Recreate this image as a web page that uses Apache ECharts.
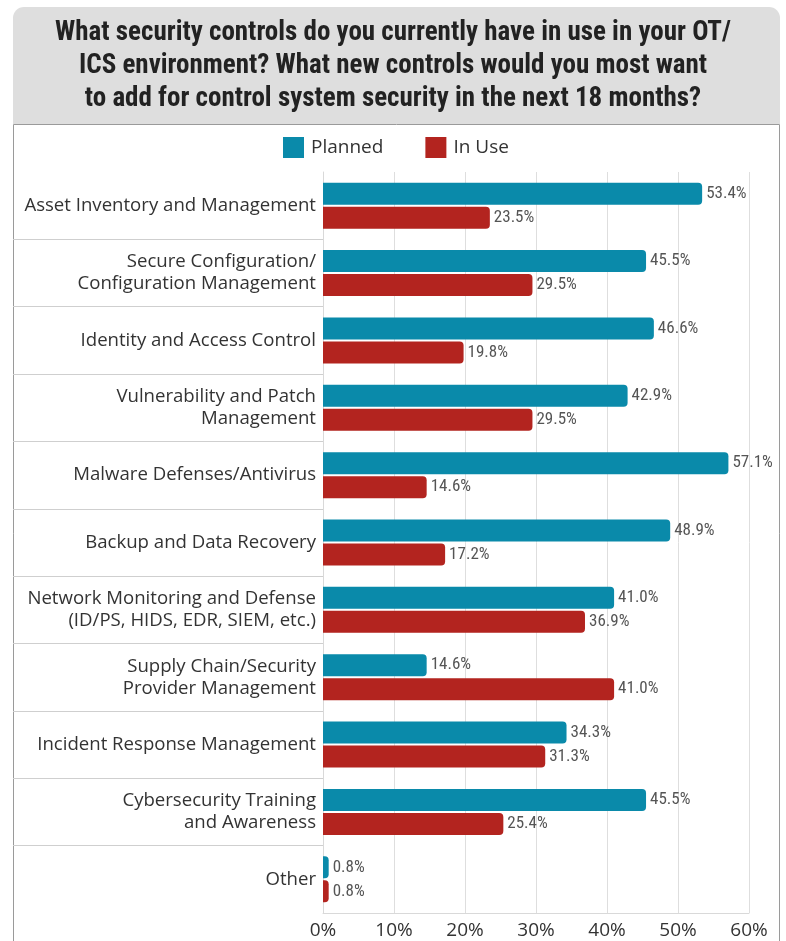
<!DOCTYPE html>
<html>
<head>
<meta charset="utf-8">
<script src="https://cdn.jsdelivr.net/npm/echarts@6/dist/echarts.min.js"></script>
<style>
  html, body { margin: 0; padding: 0; background: #ffffff; }
  #chart { width: 786px; height: 941px; }
</style>
</head>
<body>
<div id="chart"></div>
<script>
// Survey categories, top to bottom
const categories = [
  'Asset Inventory and Management',
  'Secure Configuration/\nConfiguration Management',
  'Identity and Access Control',
  'Vulnerability and Patch\nManagement',
  'Malware Defenses/Antivirus',
  'Backup and Data Recovery',
  'Network Monitoring and Defense\n(ID/PS, HIDS, EDR, SIEM, etc.)',
  'Supply Chain/Security\nProvider Management',
  'Incident Response Management',
  'Cybersecurity Training\nand Awareness',
  'Other'
];

// Share of respondents (%)
const planned = [53.4, 45.5, 46.6, 42.9, 57.1, 48.9, 41.0, 14.6, 34.3, 45.5, 0.8];
const inUse   = [23.5, 29.5, 19.8, 29.5, 14.6, 17.2, 36.9, 41.0, 31.3, 25.4, 0.8];

// Value axis ticks
const axisMin = 0;
const axisMax = 60;
const axisStep = 10;

const titleLines = [
  'What security controls do you currently have in use in your OT/',
  'ICS environment? What new controls would you most want',
  'to add for control system security in the next 18 months?'
];

const BLUE = '#0a8aaa';
const RED = '#b3241f';
const narrowFont = '"Liberation Sans Narrow", "Roboto Condensed", "DejaVu Sans Condensed", sans-serif';
const textFont = '"Open Sans", "Noto Sans", sans-serif';

const chart = echarts.init(document.getElementById('chart'), null, { renderer: 'canvas' });

const valueLabel = {
  show: true,
  position: 'right',
  distance: 4,
  color: '#555',
  fontFamily: narrowFont,
  fontSize: 17,
  formatter: p => p.value.toFixed(1) + '%'
};

chart.setOption({
  animation: false,
  backgroundColor: '#ffffff',
  graphic: [
    {
      type: 'rect',
      z: -10,
      shape: { x: 13, y: 7, width: 767, height: 117, r: [11, 11, 0, 0] },
      style: { fill: '#dedede' }
    },
    {
      type: 'rect',
      z: -10,
      shape: { x: 13.5, y: 124.5, width: 766, height: 840 },
      style: { fill: '#ffffff', stroke: '#9a9a9a', lineWidth: 1 }
    }
  ],
  title: {
    text: titleLines.join('\n'),
    left: 'center',
    top: 12,
    textStyle: {
      fontFamily: narrowFont,
      fontWeight: 'bold',
      fontSize: 27,
      lineHeight: 33,
      color: '#222'
    }
  },
  legend: {
    top: 132,
    left: 278,
    itemWidth: 21,
    itemHeight: 21,
    itemGap: 42,
    icon: 'rect',
    textStyle: { fontFamily: textFont, fontSize: 19, color: '#333', padding: [0, 0, 0, 2] },
    data: ['Planned', 'In Use']
  },
  grid: [
    { left: 323, right: 37, top: 172, bottom: 28, containLabel: false },
    { left: 13, width: 310, top: 172, bottom: 28, containLabel: false }
  ],
  xAxis: [
    {
      gridIndex: 0,
      type: 'value',
      min: axisMin,
      max: axisMax,
      interval: axisStep,
      axisLine: { show: true, lineStyle: { color: '#d9d9d9' } },
      axisTick: { show: false },
      splitLine: { show: true, lineStyle: { color: '#dedede', width: 1 } },
      axisLabel: {
        formatter: v => v + '%',
        fontFamily: textFont,
        fontSize: 19,
        color: '#333',
        margin: 8
      }
    },
    { gridIndex: 1, type: 'value', show: false }
  ],
  yAxis: [
    {
      gridIndex: 0,
      type: 'category',
      inverse: true,
      data: categories,
      axisLine: { show: true, lineStyle: { color: '#d9d9d9' } },
      axisTick: { show: false },
      axisLabel: {
        fontFamily: textFont,
        fontSize: 18.6,
        lineHeight: 22,
        color: '#333',
        margin: 7,
        align: 'right'
      }
    },
    {
      // row separators in the label column
      gridIndex: 1,
      type: 'category',
      inverse: true,
      data: categories,
      axisLine: { show: false },
      axisTick: { show: false },
      axisLabel: { show: false },
      splitLine: {
        show: true,
        showMinLine: false,
        showMaxLine: false,
        lineStyle: { color: '#cfcfcf', width: 1 }
      }
    }
  ],
  series: [
    {
      name: 'Planned',
      type: 'bar',
      xAxisIndex: 0,
      yAxisIndex: 0,
      data: planned,
      barWidth: 22,
      barGap: '9%',
      itemStyle: { color: BLUE, borderRadius: [0, 4, 4, 0] },
      label: valueLabel
    },
    {
      name: 'In Use',
      type: 'bar',
      xAxisIndex: 0,
      yAxisIndex: 0,
      data: inUse,
      barWidth: 22,
      barGap: '9%',
      itemStyle: { color: RED, borderRadius: [0, 4, 4, 0] },
      label: valueLabel
    }
  ]
});
</script>
</body>
</html>
